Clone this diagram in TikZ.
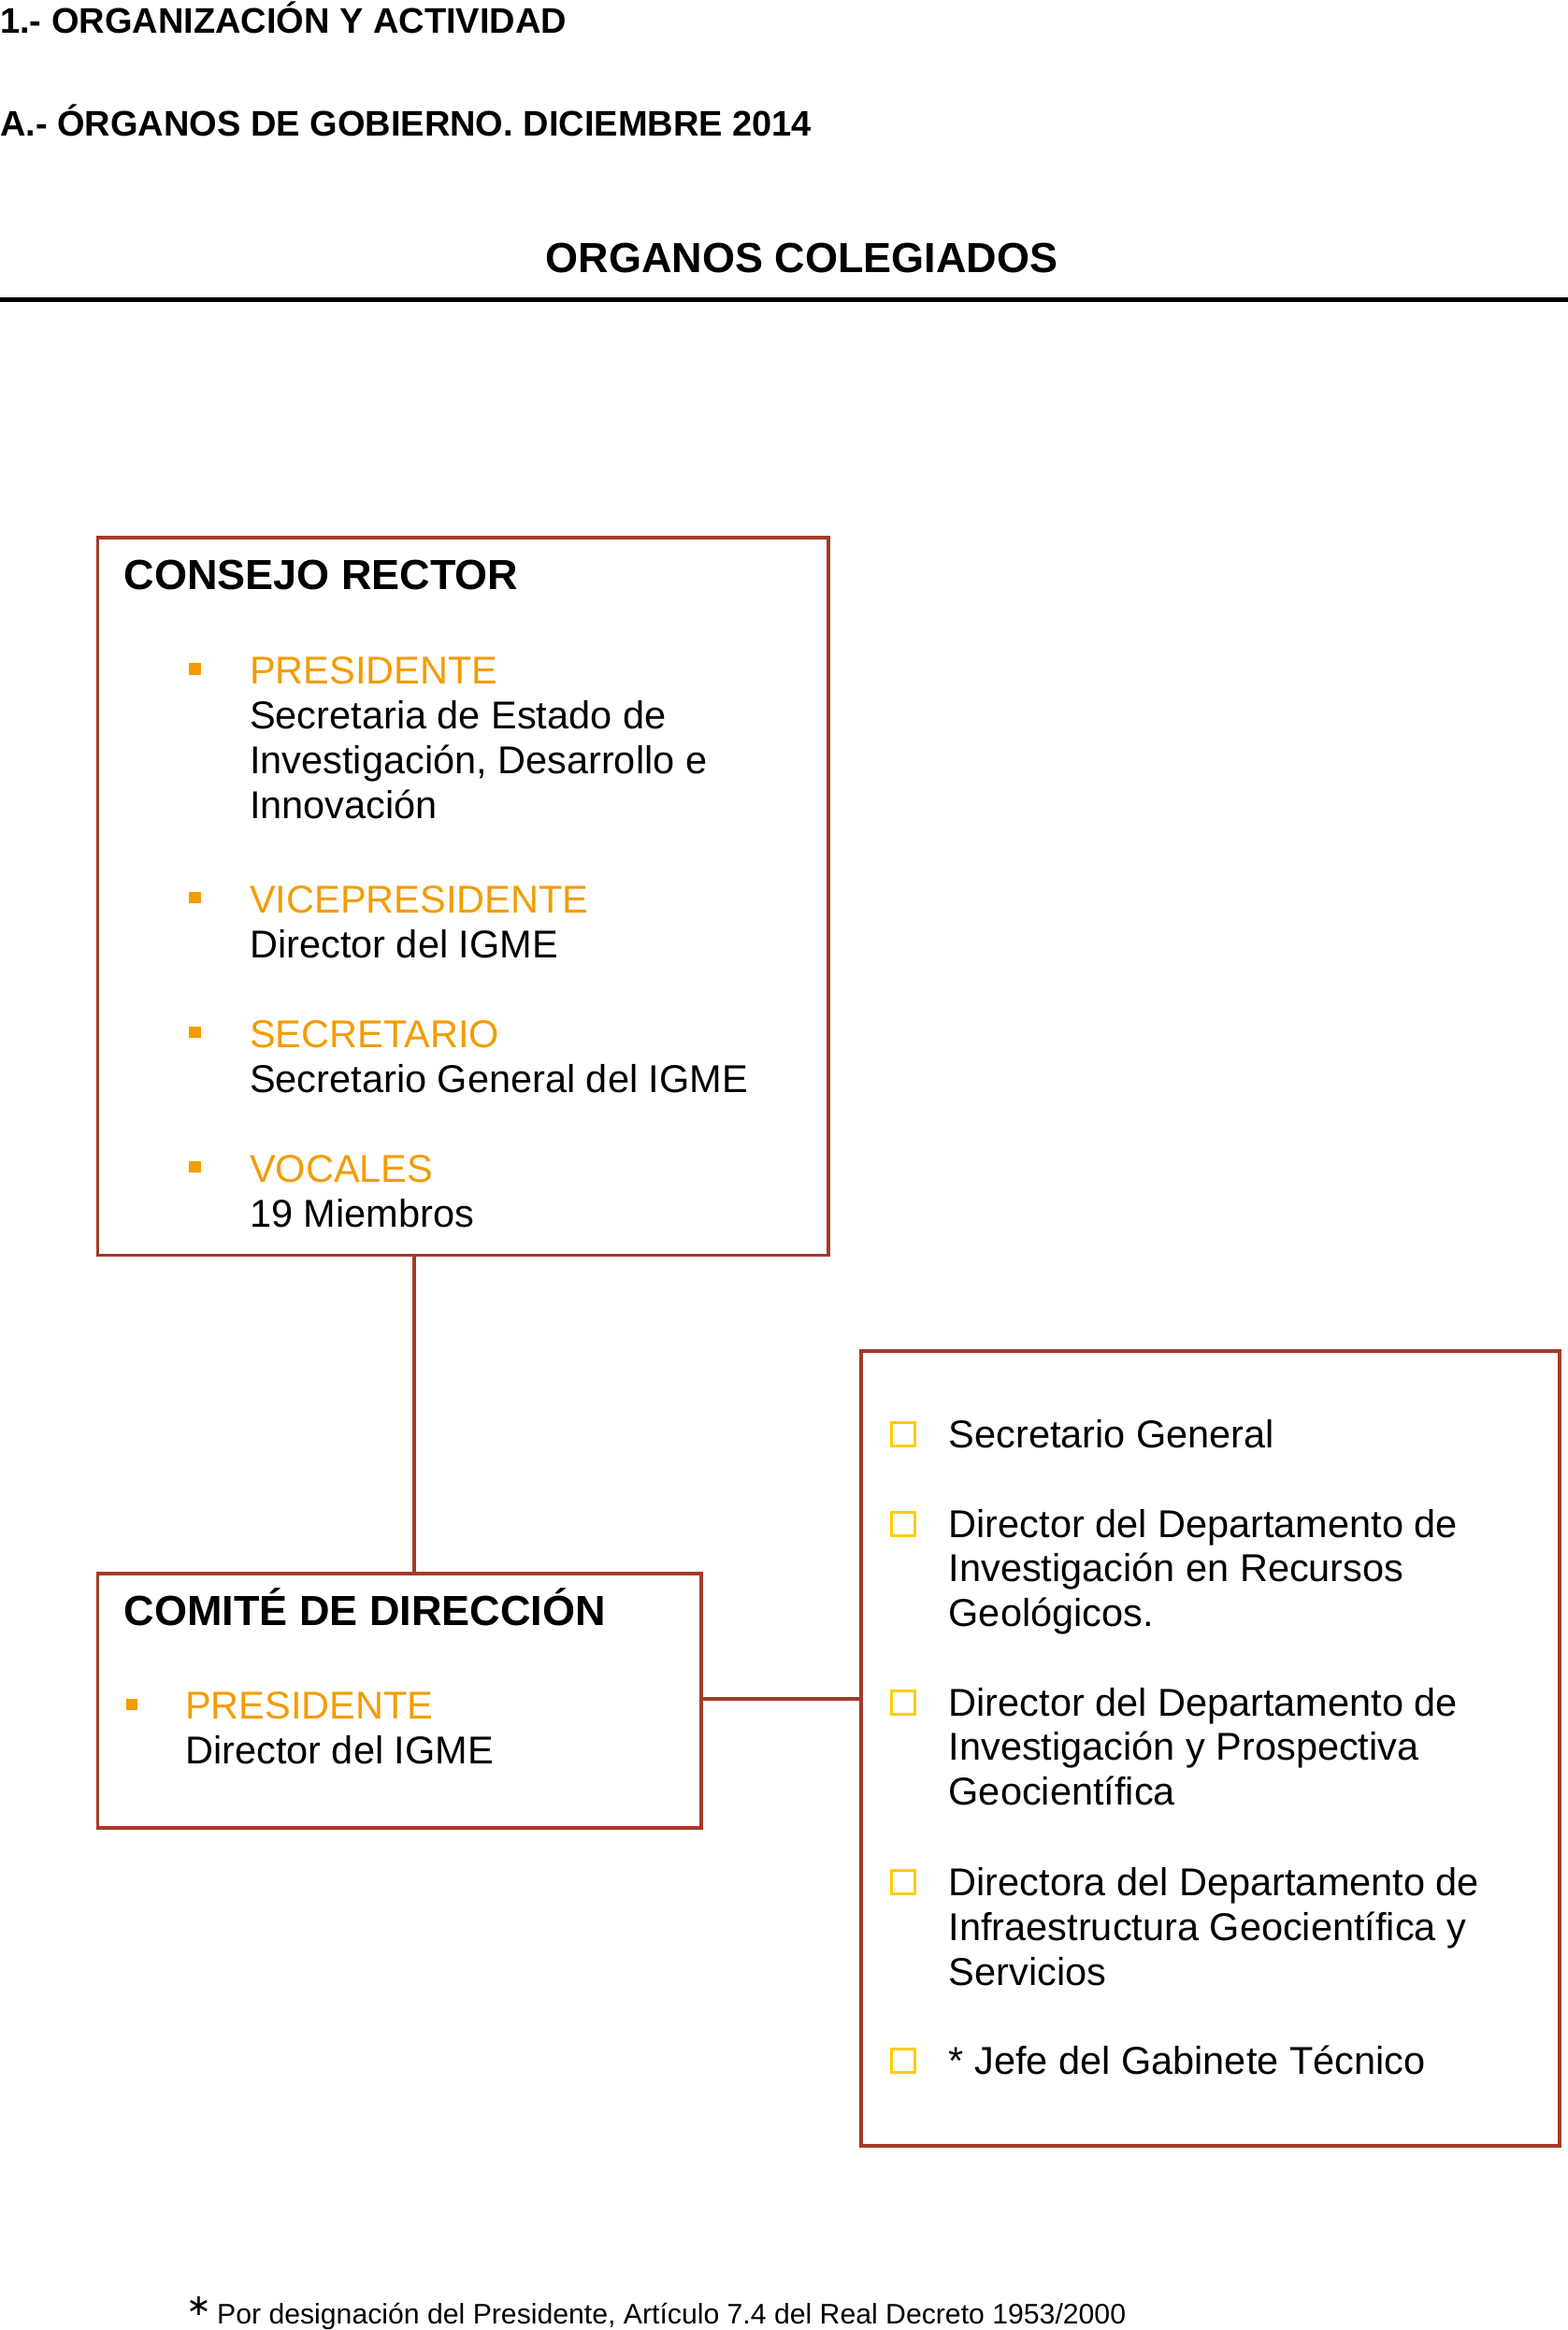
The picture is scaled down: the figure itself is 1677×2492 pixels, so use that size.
\documentclass[tikz,border=0pt]{standalone}
\usepackage{fontspec}
\setmainfont{Liberation Sans}
\newfontfamily\dejavu{DejaVu Sans}
\definecolor{boxred}{RGB}{165,58,40}
\definecolor{orangeT}{RGB}{243,156,0}
\definecolor{yel}{RGB}{255,206,0}
\tikzset{
  hd/.style={anchor=base west, inner sep=0pt, font=\fontsize{38}{44}\selectfont\bfseries},
  ttl/.style={anchor=base west, inner sep=0pt, font=\fontsize{45}{52}\selectfont\bfseries},
  bodytxt/.style={anchor=base west, inner sep=0pt, font=\fontsize{41.5}{48}\selectfont},
  role/.style={bodytxt, text=orangeT},
  box/.style={draw=boxred, line width=3.5pt, anchor=north west, inner sep=0pt},
  fbullet/.style={fill=orangeT, minimum size=12.5pt, inner sep=0pt},
  hbullet/.style={draw=yel, line width=3pt, minimum size=25pt, inner sep=0pt},
  conn/.style={draw=boxred, line width=3.5pt},
  foot/.style={anchor=base west, inner sep=0pt, font=\fontsize{30.2}{36}\selectfont}
}
\begin{document}
\begin{tikzpicture}[x=1pt,y=-1pt]
\useasboundingbox (0,0) rectangle (1677,2492);
% headers
\node[hd] (h1) at (0,35) {1.- ORGANIZACIÓN Y ACTIVIDAD};
\node[hd] (h2) at (0,145) {A.- ÓRGANOS DE GOBIERNO. DICIEMBRE 2014};
\node[ttl, anchor=base] (h3) at (857.6,291) {ORGANOS COLEGIADOS};
\coordinate (rl) at (0,320.5);
\coordinate (rr) at (1677,320.5);
\draw[line width=5pt] (rl) -- (rr);

% boxes
\node[box, minimum width=781.5pt, minimum height=767.5pt] (cr) at (102.5,573) {};
\node[box, minimum width=645.5pt, minimum height=272pt] (cd) at (102.5,1681) {};
\node[box, minimum width=747pt, minimum height=850pt] (cc) at (919,1443) {};

% connectors
\coordinate (v) at (443,0);
\coordinate (hz) at (0,1817);
\draw[conn] (cr.south -| v) -- (cd.north -| v);
\draw[conn] (cd.east |- hz) -- (cc.west |- hz);

% Consejo rector
\node[ttl] (crt) at (132.5,630) {CONSEJO RECTOR};
\node[fbullet] (b1) at (208.5,715.5) {};
\node[role] (r1) at (267,731.5) {PRESIDENTE};
\node[bodytxt] (r1a) at (267,779.5) {Secretaria de Estado de};
\node[bodytxt] (r1b) at (267,827.5) {Investigación, Desarrollo e};
\node[bodytxt] (r1c) at (267,875.5) {Innovación};
\node[fbullet] (b2) at (208.5,960) {};
\node[role] (r2) at (267,976) {VICEPRESIDENTE};
\node[bodytxt] (r2a) at (267,1024) {Director del IGME};
\node[fbullet] (b3) at (208.5,1104) {};
\node[role] (r3) at (267,1120) {SECRETARIO};
\node[bodytxt] (r3a) at (267,1168) {Secretario General del IGME};
\node[fbullet] (b4) at (208.5,1248) {};
\node[role] (r4) at (267,1264) {VOCALES};
\node[bodytxt] (r4a) at (267,1312) {19 Miembros};

% Comite de direccion
\node[ttl] (cdt) at (132.5,1738) {COMITÉ DE DIRECCIÓN};
\node[fbullet] (b5) at (141,1823) {};
\node[role] (r5) at (198,1838) {PRESIDENTE};
\node[bodytxt] (r5a) at (198,1886) {Director del IGME};

% Members
\node[hbullet] (s1) at (966,1533.5) {};
\node[bodytxt] (m1) at (1014.5,1548) {Secretario General};
\node[hbullet] (s2) at (966,1629.5) {};
\node[bodytxt] (m2a) at (1014.5,1644) {Director del Departamento de};
\node[bodytxt] (m2b) at (1014.5,1691.5) {Investigación en Recursos};
\node[bodytxt] (m2c) at (1014.5,1739) {Geológicos.};
\node[hbullet] (s3) at (966,1820.5) {};
\node[bodytxt] (m3a) at (1014.5,1835) {Director del Departamento de};
\node[bodytxt] (m3b) at (1014.5,1882.5) {Investigación y Prospectiva};
\node[bodytxt] (m3c) at (1014.5,1930) {Geocientífica};
\node[hbullet] (s4) at (966,2012.5) {};
\node[bodytxt] (m4a) at (1014.5,2027) {Directora del Departamento de};
\node[bodytxt] (m4b) at (1014.5,2075) {Infraestructura Geocientífica y};
\node[bodytxt] (m4c) at (1014.5,2123) {Servicios};
\node[hbullet] (s5) at (966,2203.5) {};
\node[bodytxt] (m5) at (1014.5,2218) {* Jefe del Gabinete Técnico};

% footnote
\node[anchor=base west, inner sep=0pt, font=\dejavu\fontsize{32}{32}\selectfont] (fa) at (199,2476) {∗};
\node[foot] (ft) at (232,2485) {Por designación del Presidente, Artículo 7.4 del Real Decreto 1953/2000};
\end{tikzpicture}
\end{document}
